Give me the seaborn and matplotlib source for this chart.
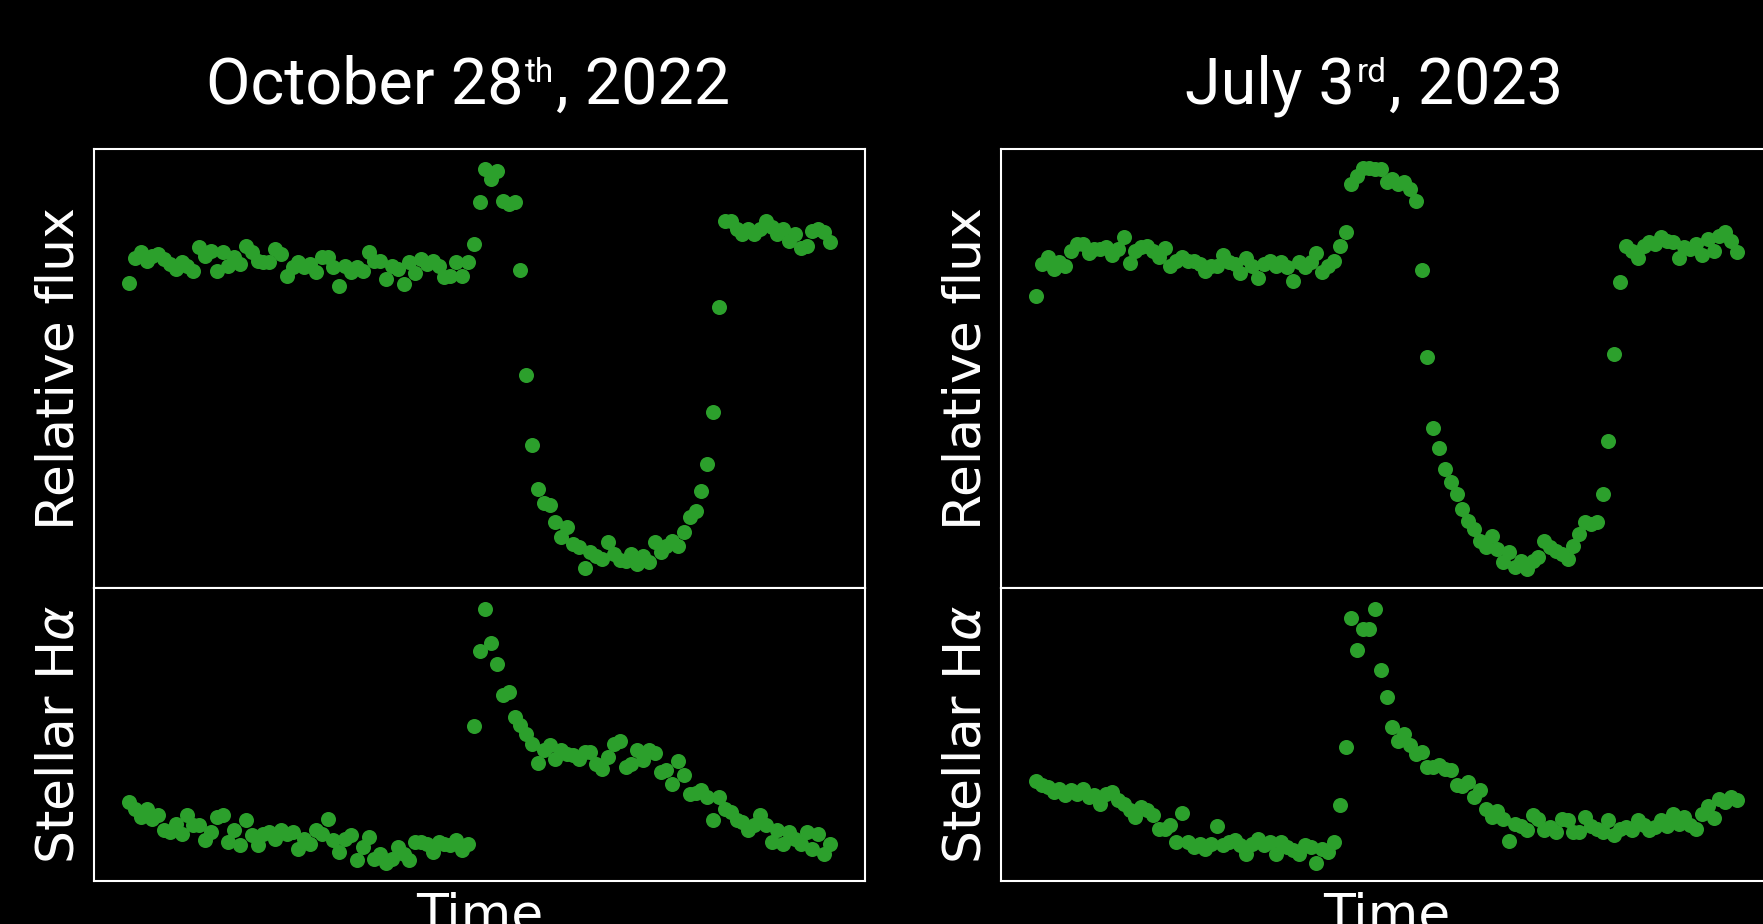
import numpy as np
import pandas as pd
import matplotlib
matplotlib.use("Agg")
import matplotlib.pyplot as plt
import seaborn as sns

# ---------------- data ----------------
oct_flux = [
    0.9975, 1.0000, 1.0006, 0.9997, 1.0002, 1.0004, 0.9999, 0.9994, 0.9989, 0.9996,
    0.9992, 0.9987, 1.0011, 1.0002, 1.0007, 0.9987, 1.0006, 0.9992, 1.0001, 0.9994,
    1.0012, 1.0006, 0.9997, 0.9996, 0.9996, 1.0009, 1.0004, 0.9982, 0.9991, 0.9996,
    0.9991, 0.9994, 0.9986, 1.0001, 1.0001, 0.9991, 0.9972, 0.9992, 0.9986, 0.9991,
    0.9987, 1.0006, 0.9997, 0.9997, 0.9979, 0.9992, 0.9989, 0.9974, 0.9996, 0.9985,
    0.9999, 0.9994, 0.9997, 0.9992, 0.9981, 0.9982, 0.9996, 0.9982, 0.9996, 1.0014,
    1.0056, 1.0089, 1.0079, 1.0087, 1.0057, 1.0054, 1.0056, 0.9988, 0.9883, 0.9813,
    0.9769, 0.9755, 0.9753, 0.9736, 0.9721, 0.9731, 0.9714, 0.9711, 0.9690, 0.9706,
    0.9702, 0.9699, 0.9716, 0.9704, 0.9698, 0.9697, 0.9704, 0.9694, 0.9702, 0.9696,
    0.9716, 0.9706, 0.9712, 0.9717, 0.9712, 0.9726, 0.9741, 0.9747, 0.9767, 0.9794,
    0.9846, 0.9951, 1.0037, 1.0037, 1.0029, 1.0024, 1.0029, 1.0024, 1.0029, 1.0037,
    1.0031, 1.0024, 1.0029, 1.0017, 1.0024, 1.0010, 1.0012, 1.0027, 1.0029, 1.0026,
    1.0016,
]
oct_halpha = [
    0.980, 0.913, 0.830, 0.913, 0.813, 0.847, 0.697, 0.680, 0.763, 0.663,
    0.847, 0.747, 0.747, 0.597, 0.680, 0.830, 0.847, 0.580, 0.697, 0.547,
    0.797, 0.647, 0.547, 0.663, 0.680, 0.613, 0.697, 0.663, 0.680, 0.513,
    0.613, 0.563, 0.697, 0.663, 0.813, 0.597, 0.480, 0.613, 0.647, 0.397,
    0.530, 0.630, 0.413, 0.463, 0.370, 0.413, 0.530, 0.463, 0.403, 0.580,
    0.580, 0.563, 0.480, 0.580, 0.563, 0.547, 0.597, 0.497, 0.563, 1.737,
    2.487, 2.907, 2.570, 2.363, 2.047, 2.080, 1.830, 1.747, 1.663, 1.563,
    1.370, 1.497, 1.547, 1.413, 1.497, 1.463, 1.447, 1.413, 1.480, 1.480,
    1.363, 1.313, 1.430, 1.563, 1.590, 1.330, 1.363, 1.497, 1.397, 1.503,
    1.470, 1.280, 1.297, 1.163, 1.390, 1.247, 1.063, 1.070, 1.097, 1.030,
    0.797, 1.030, 0.913, 0.880, 0.797, 0.780, 0.697, 0.747, 0.847, 0.747,
    0.580, 0.697, 0.563, 0.680, 0.613, 0.563, 0.680, 0.513, 0.663, 0.463,
    0.563,
]
jul_flux = [
    0.9962, 0.9994, 1.0001, 0.9989, 0.9996, 0.9992, 1.0007, 1.0014, 1.0014, 1.0005,
    1.0009, 1.0009, 1.0011, 1.0003, 1.0009, 1.0021, 0.9995, 1.0007, 1.0011, 1.0012,
    1.0007, 1.0001, 1.0010, 0.9992, 0.9997, 1.0001, 0.9997, 0.9997, 0.9994, 0.9987,
    0.9992, 0.9992, 1.0003, 0.9996, 0.9994, 0.9985, 1.0000, 0.9992, 0.9980, 0.9994,
    0.9997, 0.9992, 0.9996, 0.9991, 0.9977, 0.9996, 0.9991, 0.9996, 1.0005, 0.9986,
    0.9992, 0.9997, 1.0012, 1.0026, 1.0074, 1.0082, 1.0090, 1.0090, 1.0089, 1.0089,
    1.0076, 1.0079, 1.0074, 1.0076, 1.0069, 1.0057, 0.9988, 0.9901, 0.9830, 0.9810,
    0.9789, 0.9776, 0.9764, 0.9749, 0.9737, 0.9729, 0.9717, 0.9711, 0.9722, 0.9709,
    0.9696, 0.9706, 0.9691, 0.9697, 0.9689, 0.9697, 0.9701, 0.9717, 0.9711, 0.9707,
    0.9704, 0.9699, 0.9712, 0.9724, 0.9736, 0.9734, 0.9736, 0.9764, 0.9817, 0.9904,
    0.9976, 1.0012, 1.0007, 1.0000, 1.0012, 1.0016, 1.0014, 1.0021, 1.0017, 1.0016,
    1.0000, 1.0011, 1.0009, 1.0014, 1.0003, 1.0019, 1.0007, 1.0022, 1.0026, 1.0017,
    1.0006,
]
jul_halpha = [
    1.190, 1.147, 1.130, 1.080, 1.113, 1.047, 1.097, 1.063, 1.113, 1.030,
    1.047, 0.963, 1.063, 1.080, 0.997, 0.963, 0.897, 0.830, 0.930, 0.897,
    0.847, 0.713, 0.713, 0.747, 0.580, 0.870, 0.580, 0.530, 0.563, 0.513,
    0.563, 0.737, 0.547, 0.580, 0.597, 0.547, 0.463, 0.563, 0.613, 0.547,
    0.580, 0.463, 0.580, 0.530, 0.497, 0.463, 0.547, 0.530, 0.370, 0.513,
    0.480, 0.580, 0.947, 1.530, 2.823, 2.503, 2.713, 2.713, 2.913, 2.297,
    2.030, 1.730, 1.590, 1.663, 1.547, 1.463, 1.480, 1.330, 1.330, 1.347,
    1.313, 1.297, 1.147, 1.137, 1.180, 1.030, 1.097, 0.913, 0.830, 0.890,
    0.813, 0.590, 0.763, 0.737, 0.703, 0.847, 0.813, 0.697, 0.730, 0.680,
    0.813, 0.797, 0.680, 0.680, 0.830, 0.737, 0.713, 0.680, 0.797, 0.647,
    0.713, 0.730, 0.697, 0.797, 0.747, 0.697, 0.730, 0.797, 0.737, 0.863,
    0.763, 0.830, 0.747, 0.713, 0.863, 0.937, 0.823, 1.013, 0.980, 1.030,
    1.003,
]
titles = [("October 28", "th", ", 2022"), ("July 3", "rd", ", 2023")]
ylabel_flux = "Relative flux"
ylabel_halpha = r"Stellar H$\alpha$"
xlabel = "Time"

# ---------------- style ----------------
GREEN = "#2ca02c"
sns.set_theme(style="white", rc={
    "figure.facecolor": "black",
    "axes.facecolor": "black",
    "savefig.facecolor": "black",
    "axes.edgecolor": "white",
    "axes.linewidth": 1.5,
    "text.color": "white",
    "axes.labelcolor": "white",
})
plt.rcParams["font.family"] = ["DejaVu Sans"]
plt.rcParams["mathtext.fontset"] = "dejavusans"

W, H = 1763, 924
fig = plt.figure(figsize=(W / 100, H / 100), dpi=100)


def box(x0, y_top, x1, y_bot):
    return [x0 / W, 1 - y_bot / H, (x1 - x0) / W, (y_bot - y_top) / H]


renderer = fig.canvas.get_renderer()


def sup_title(xc, base, parts):
    main1, sup, main2 = parts
    big = dict(fontsize=46.5, family="Roboto", color="white", va="baseline", ha="left")
    small = dict(fontsize=24, family="Roboto", color="white", va="baseline", ha="left")
    t1 = fig.text(0, 0, main1, **big)
    t2 = fig.text(0, 0, sup, **small)
    t3 = fig.text(0, 0, main2, **big)
    w1 = t1.get_window_extent(renderer).width
    w2 = t2.get_window_extent(renderer).width
    w3 = t3.get_window_extent(renderer).width
    gap = 2
    total = w1 + gap + w2 + gap + w3
    x = xc - total / 2
    t1.set_position((x / W, 1 - base / H))
    t2.set_position(((x + w1 + gap) / W, 1 - (base - 21) / H))
    t3.set_position(((x + w1 + gap + w2 + gap) / W, 1 - base / H))


columns = [
    (oct_flux, oct_halpha, 94, 468, titles[0]),
    (jul_flux, jul_halpha, 1001, 1374, titles[1]),
]

for flux, halpha, x0, title_xc, title in columns:
    df = pd.DataFrame({
        "exposure": np.arange(len(flux)),
        "flux": flux,
        "halpha": halpha,
    })
    ax_top = fig.add_axes(box(x0, 149, x0 + 771, 587.5))
    ax_bot = fig.add_axes(box(x0, 587.5, x0 + 771, 881))

    sns.scatterplot(data=df, x="exposure", y="flux", ax=ax_top, color=GREEN,
                    s=117, linewidth=0, legend=False)
    sns.scatterplot(data=df, x="exposure", y="halpha", ax=ax_bot, color=GREEN,
                    s=117, linewidth=0, legend=False)

    for ax in (ax_top, ax_bot):
        ax.set_xlim(-6, 126)
        ax.set_xticks([])
        ax.set_yticks([])
        ax.set_facecolor("black")
        for sp in ax.spines.values():
            sp.set_color("white")
            sp.set_linewidth(1.5)
    ax_top.set_ylim(0.96705, 1.0109)
    ax_bot.set_ylim(0.19, 3.125)

    ax_top.set_xlabel("")
    ax_top.set_ylabel(ylabel_flux, fontsize=37.5, color="white")
    ax_top.yaxis.set_label_coords(-0.0117, 0.5)
    ax_bot.set_ylabel(ylabel_halpha, fontsize=37.5, color="white")
    ax_bot.yaxis.set_label_coords(-0.0117, 0.5)
    ax_bot.set_xlabel(xlabel, fontsize=37.5, color="white", labelpad=7.4)

    sup_title(title_xc, 103.3, title)

fig.savefig("out.png", dpi=100, facecolor="black")
